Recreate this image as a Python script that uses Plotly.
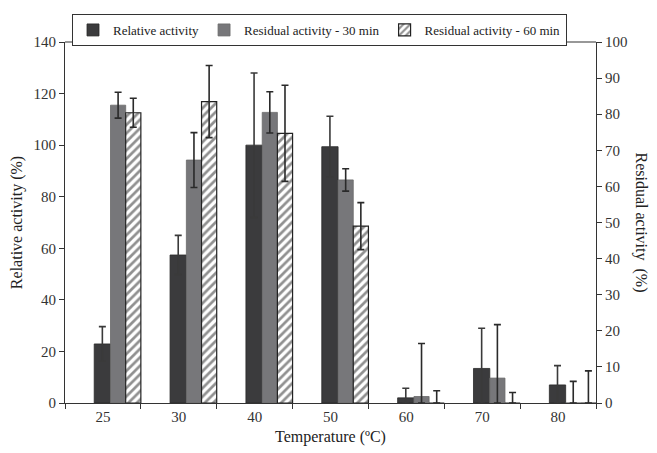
import numpy as np
import plotly.graph_objects as go

temps = ["25", "30", "40", "50", "60", "70", "80"]
relative = [22.9, 57.4, 100.0, 99.4, 2.0, 13.4, 7.0]
relative_err = [6.7, 7.6, 28.0, 11.8, 3.7, 15.6, 7.5]
res30 = [82.5, 67.3, 80.5, 61.8, 1.8, 6.9, 0.0]
res30_err = [3.6, 7.6, 5.7, 3.1, 14.7, 14.8, 6.0]
res60 = [80.4, 83.5, 74.7, 49.0, 0.0, 0.0, 0.0]
res60_err = [4.0, 10.0, 13.3, 6.5, 3.4, 2.9, 8.9]

FONT = "Liberation Serif"
W, H = 649, 445  # page body has an 8px margin

def err(vals, errs, color):
    return dict(type="data", symmetric=False, array=errs,
                arrayminus=list(np.minimum(vals, errs)),
                color=color, thickness=1.6, width=3.5)

fig = go.Figure()
fig.add_trace(go.Bar(
    x=temps, y=relative, name="Relative activity",
    marker=dict(color="#3b3b3d", line=dict(color="#2a2a2a", width=0.8)),
    offset=-0.115, width=0.215,
    error_y=err(relative, relative_err, "#3a3a3a"),
))
fig.add_trace(go.Bar(
    x=temps, y=res30, name="Residual activity - 30 min", yaxis="y2",
    marker=dict(color="#77777a", line=dict(color="#6a6a6a", width=0.8)),
    offset=0.1, width=0.2,
    error_y=err(res30, res30_err, "#2a2a2a"),
))
fig.add_trace(go.Bar(
    x=temps, y=res60, name="Residual activity - 60 min", yaxis="y2",
    marker=dict(color="white", line=dict(color="#222", width=1.2),
                pattern=dict(shape="/", fgcolor="#222", bgcolor="white",
                             size=6, solidity=0.45)),
    offset=0.3, width=0.2,
    error_y=err(res60, res60_err, "#2a2a2a"),
))

fig.update_layout(
    width=W, height=H,
    paper_bgcolor="white", plot_bgcolor="white",
    margin=dict(l=57, r=61, t=34, b=50, autoexpand=False),
    font=dict(family=FONT, size=14, color="#222"),
    showlegend=True,
    legend=dict(orientation="h", xref="container", yref="container",
                x=64 / W, xanchor="left", y=1 - 6 / H, yanchor="top",
                bordercolor="#333", borderwidth=1, bgcolor="white",
                font=dict(family=FONT, size=13, color="#222"),
                itemwidth=30, traceorder="normal", tracegroupgap=0),
    xaxis=dict(type="category", tickson="boundaries", ticks="outside", ticklen=5,
               tickcolor="#333", showline=True, linecolor="#333", linewidth=1.2,
               automargin=False, showgrid=False,
               tickfont=dict(family=FONT, size=15, color="#333"),
               title=dict(text="Temperature (ºC)", standoff=6,
                          font=dict(family=FONT, size=16, color="#222"))),
    yaxis=dict(range=[0, 140], dtick=20, ticks="outside", ticklen=5, tickcolor="#333",
               showline=True, linecolor="#333", linewidth=1.2, showgrid=False,
               zeroline=False, automargin=False,
               tickfont=dict(family=FONT, size=15, color="#333"),
               title=dict(text="Relative activity (%)", standoff=8,
                          font=dict(family=FONT, size=16, color="#222"))),
    yaxis2=dict(range=[0, 100], dtick=10, overlaying="y", side="right",
                ticks="outside", ticklen=5, tickcolor="#333",
                showline=True, linecolor="#333", linewidth=1.2, showgrid=False,
                zeroline=False, automargin=False,
                tickfont=dict(family=FONT, size=15, color="#333")),
    shapes=[dict(type="line", xref="paper", yref="paper", x0=0, x1=1, y0=1, y1=1,
                 line=dict(color="#333", width=1.2))],
    annotations=[dict(text="Residual activity  (%)", textangle=90,
                      xref="paper", yref="paper", x=1, xshift=45, y=0.5,
                      showarrow=False, xanchor="center", yanchor="middle",
                      font=dict(family=FONT, size=16, color="#222"))],
)

fig.write_html("out.html")
